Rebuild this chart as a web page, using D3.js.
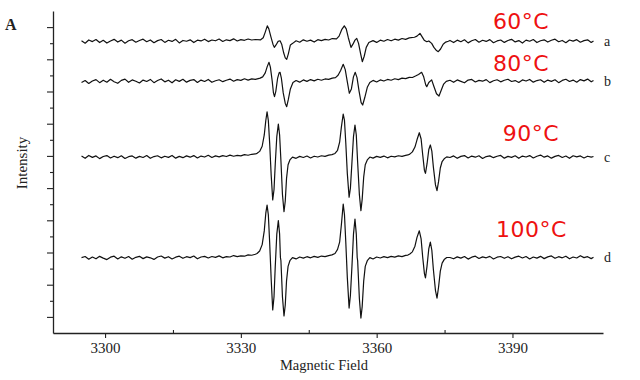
<!DOCTYPE html>
<html lang="en">
<head>
<meta charset="utf-8">
<title>EPR spectra</title>
<script src="https://d3js.org/d3.v7.min.js"></script>
<style>
body { margin: 0; background: #fff; }
svg text { font-family: "Liberation Serif", "Times New Roman", serif; fill: #222; }
</style>
</head>
<body>
<div id="chart"></div>
<script>
// x axis ticks (Gauss)
var fieldTicks = [3300, 3330, 3360, 3390];
var fieldMinor = [3315, 3345, 3375];
// y axis ticks (no labels in the original)
var yMajor = [1, 3, 5, 7, 9, 11, 13, 15, 17, 19];
var yMinor = [2, 4, 6, 8, 10, 12, 14, 16, 18];

var traceNames = ["a", "b", "c", "d"];
var tempLabels = ["60°C", "80°C", "90°C", "100°C"];
// baseline of each stacked spectrum
var offsets = [18.09, 15.61, 10.9, 4.64];

// spectra, [field, signal]
var traceA = [[3294.8,0.06],[3295.6,-0.09],[3296.4,0.11],[3297.2,0.01],[3298.0,0.14],[3298.8,-0.05],[3299.6,0.09],[3300.4,-0.08],[3301.2,0.05],[3302.0,0.15],[3302.8,-0.02],[3303.6,0.10],[3304.4,-0.09],[3305.2,0.06],[3306.0,0.13],[3306.8,-0.03],[3307.6,0.08],[3308.4,0.16],[3309.2,0.00],[3310.0,0.11],[3310.8,-0.06],[3311.6,0.07],[3312.4,0.14],[3313.2,-0.04],[3314.0,0.09],[3314.8,0.02],[3315.6,0.15],[3316.4,-0.07],[3317.2,0.08],[3318.0,0.03],[3318.8,0.12],[3319.6,-0.05],[3320.4,0.10],[3321.2,0.05],[3322.0,0.16],[3322.8,0.01],[3323.6,0.11],[3324.4,0.06],[3325.2,0.17],[3326.0,0.02],[3326.8,0.12],[3327.6,0.07],[3328.4,0.18],[3329.2,0.05],[3330.0,0.13],[3330.8,0.09],[3331.6,0.17],[3332.4,0.11],[3333.2,0.14],
  [3334.37,0.12],[3334.94,0.25],[3335.39,0.6],[3335.84,0.99],[3336.18,0.80],[3336.64,0.30],[3337.09,-0.15],[3337.39,-0.35],[3337.77,-0.20],[3338.23,0.02],[3338.66,0.06],[3339.02,-0.15],[3339.47,-0.70],[3339.81,-1.00],[3340.13,-1.09],[3340.49,-0.75],[3340.94,-0.20],[3341.45,-0.10],
  [3342.2,0.06],[3343.0,-0.03],[3343.8,0.12],[3344.6,0.03],[3345.4,0.10],[3346.2,-0.02],[3347.0,0.13],[3347.8,0.07],[3348.6,0.15],[3349.4,0.11],[3350.2,0.20],
  [3351.13,0.18],[3351.70,0.35],[3352.27,0.75],[3352.85,0.99],[3353.28,0.80],[3353.74,0.25],[3354.33,-0.35],[3354.76,-0.15],[3355.21,0.10],[3355.60,0.21],[3356.00,-0.10],[3356.46,-0.75],[3356.83,-1.24],[3357.25,-0.90],[3357.70,-0.35],[3358.27,-0.05],
  [3359.2,0.07],[3360.0,-0.04],[3360.8,0.10],[3361.6,0.03],[3362.4,0.14],[3363.2,0.06],[3364.0,0.16],[3364.8,0.10],[3365.6,0.20],[3366.4,0.15],[3367.2,0.24],
  [3368.35,0.28],[3368.91,0.35],[3369.57,0.52],[3370.05,0.30],[3370.50,0.10],[3371.07,0.00],[3371.52,0.05],[3372.15,-0.10],[3372.65,-0.35],[3373.22,-0.55],[3373.61,-0.62],[3374.12,-0.45],[3374.69,-0.15],[3375.26,-0.02],[3375.82,0.03],
  [3376.2,0.08],[3377.0,-0.05],[3377.8,0.10],[3378.6,0.00],[3379.4,0.12],[3380.2,-0.07],[3381.0,0.06],[3381.8,0.14],[3382.6,-0.03],[3383.4,0.09],[3384.2,0.02],[3385.0,0.13],[3385.8,-0.06],[3386.6,0.05],[3387.4,0.11],[3388.2,-0.04],[3389.0,0.08],[3389.8,0.15],[3390.6,-0.01],[3391.4,0.07],[3392.2,-0.08],[3393.0,0.10],[3393.8,0.03],[3394.6,0.14],[3395.4,-0.05],[3396.2,0.06],[3397.0,0.12],[3397.8,-0.02],[3398.6,0.09],[3399.4,0.16],[3400.2,0.00],[3401.0,0.08],[3401.8,-0.06],[3402.6,0.11],[3403.4,0.04],[3404.2,0.13],[3405.0,-0.03],[3405.8,0.07],[3406.6,0.12],[3407.4,-0.04],[3407.9,0.05]];

var traceB = [[3294.8,-0.05],[3295.6,0.07],[3296.4,-0.11],[3297.2,0.04],[3298.0,0.13],[3298.8,-0.06],[3299.6,0.09],[3300.4,-0.03],[3301.2,0.15],[3302.0,0.00],[3302.8,-0.10],[3303.6,0.08],[3304.4,0.16],[3305.2,-0.04],[3306.0,0.11],[3306.8,0.03],[3307.6,-0.08],[3308.4,0.10],[3309.2,0.01],[3310.0,0.14],[3310.8,-0.06],[3311.6,0.07],[3312.4,0.17],[3313.2,-0.01],[3314.0,0.09],[3314.8,-0.07],[3315.6,0.12],[3316.4,0.02],[3317.2,0.15],[3318.0,-0.03],[3318.8,0.08],[3319.6,0.13],[3320.4,-0.05],[3321.2,0.10],[3322.0,0.01],[3322.8,0.14],[3323.6,-0.04],[3324.4,0.06],[3325.2,0.12],[3326.0,0.00],[3326.8,0.09],[3327.6,0.16],[3328.4,0.03],[3329.2,0.13],[3330.0,0.08],[3330.8,0.18],[3331.6,0.10],[3332.4,0.17],[3333.2,0.14],
  [3334.26,0.22],[3334.82,0.30],[3335.39,0.55],[3335.84,0.95],[3336.22,1.20],[3336.52,0.90],[3336.92,0.05],[3337.20,-0.70],[3337.43,-0.93],[3337.72,-0.60],[3338.11,0.20],[3338.45,0.55],[3338.66,0.58],[3338.96,0.20],[3339.36,-0.70],[3339.81,-1.35],[3340.13,-1.55],[3340.49,-1.10],[3340.94,-0.45],[3341.51,-0.05],
  [3342.2,0.07],[3343.0,-0.03],[3343.8,0.11],[3344.6,0.02],[3345.4,0.13],[3346.2,0.05],[3347.0,0.15],[3347.8,0.09],[3348.6,0.17],[3349.4,0.14],[3350.2,0.22],
  [3350.91,0.25],[3351.47,0.40],[3352.04,0.70],[3352.61,1.08],[3353.06,0.75],[3353.51,0.00],[3353.96,-0.72],[3354.42,-0.45],[3354.87,0.30],[3355.27,0.58],[3355.66,0.25],[3356.12,-0.60],[3356.57,-1.30],[3356.91,-1.45],[3357.36,-1.00],[3357.93,-0.35],[3358.49,-0.05],
  [3359.2,0.08],[3360.0,-0.02],[3360.8,0.11],[3361.6,0.04],[3362.4,0.14],[3363.2,0.09],[3364.0,0.18],[3364.8,0.13],[3365.6,0.22],[3366.4,0.19],[3367.2,0.27],[3367.9,0.26],
  [3368.57,0.35],[3369.25,0.45],[3369.93,0.58],[3370.39,0.30],[3370.84,-0.20],[3371.07,-0.31],[3371.52,-0.05],[3372.15,0.11],[3372.65,-0.30],[3373.22,-0.75],[3373.77,-0.89],[3374.24,-0.55],[3374.80,-0.15],[3375.37,0.02],
  [3376.2,0.09],[3377.0,-0.04],[3377.8,0.11],[3378.6,0.02],[3379.4,-0.07],[3380.2,0.10],[3381.0,0.14],[3381.8,-0.02],[3382.6,0.08],[3383.4,0.03],[3384.2,0.13],[3385.0,-0.06],[3385.8,0.06],[3386.6,0.12],[3387.4,-0.01],[3388.2,0.09],[3389.0,0.15],[3389.8,0.01],[3390.6,0.07],[3391.4,-0.05],[3392.2,0.11],[3393.0,0.04],[3393.8,0.14],[3394.6,-0.03],[3395.4,0.07],[3396.2,0.12],[3397.0,-0.04],[3397.8,0.10],[3398.6,0.02],[3399.4,0.12],[3400.2,-0.06],[3401.0,0.08],[3401.8,0.15],[3402.6,0.01],[3403.4,0.10],[3404.2,-0.03],[3405.0,0.13],[3405.8,0.05],[3406.6,0.16],[3407.4,-0.01],[3407.9,0.07]];

var traceC = [[3294.8,0.09],[3295.6,-0.05],[3296.4,0.13],[3297.2,0.01],[3298.0,0.10],[3298.8,-0.07],[3299.6,0.06],[3300.4,0.12],[3301.2,-0.03],[3302.0,0.08],[3302.8,-0.01],[3303.6,0.11],[3304.4,-0.06],[3305.2,0.05],[3306.0,0.10],[3306.8,-0.04],[3307.6,0.07],[3308.4,0.00],[3309.2,0.12],[3310.0,-0.05],[3310.8,0.06],[3311.6,0.11],[3312.4,-0.02],[3313.2,0.08],[3314.0,0.01],[3314.8,0.13],[3315.6,-0.04],[3316.4,0.07],[3317.2,-0.01],[3318.0,0.10],[3318.8,0.02],[3319.6,0.12],[3320.4,-0.03],[3321.2,0.09],[3322.0,0.03],[3322.8,0.14],[3323.6,0.00],[3324.4,0.10],[3325.2,0.04],[3326.0,0.12],[3326.8,0.06],[3327.6,0.15],[3328.4,0.08],[3329.2,0.13],[3330.0,0.10],[3330.8,0.18],[3331.6,0.14],[3332.4,0.20],[3333.2,0.22],
  [3333.58,0.26],[3334.15,0.38],[3334.71,0.70],[3335.17,1.40],[3335.51,2.30],[3335.79,2.84],[3336.07,2.30],[3336.36,0.90],[3336.70,-1.10],[3337.04,-2.64],[3337.32,-2.00],[3337.60,-0.40],[3337.94,1.30],[3338.28,2.08],[3338.56,1.40],[3338.85,-0.20],[3339.19,-2.30],[3339.53,-3.37],[3339.81,-2.70],[3340.09,-1.30],[3340.43,-0.45],[3340.83,-0.15],[3341.40,0.02],
  [3342.2,-0.05],[3343.0,0.07],[3343.8,0.00],[3344.6,0.09],[3345.4,-0.03],[3346.2,0.08],[3347.0,0.03],[3347.8,0.11],[3348.6,0.07],[3349.4,0.15],
  [3350.12,0.18],[3350.80,0.25],[3351.36,0.45],[3351.82,0.95],[3352.21,1.90],[3352.61,2.70],[3352.89,2.30],[3353.18,0.90],[3353.52,-1.00],[3353.91,-2.47],[3354.20,-1.90],[3354.54,-0.30],[3354.88,1.30],[3355.21,2.02],[3355.50,1.40],[3355.78,-0.20],[3356.18,-2.30],[3356.52,-3.30],[3356.80,-2.60],[3357.14,-1.20],[3357.48,-0.45],[3357.93,-0.15],[3358.50,0.03],
  [3359.2,-0.04],[3360.0,0.07],[3360.8,0.01],[3361.6,0.09],[3362.4,-0.02],[3363.2,0.08],[3364.0,0.04],[3364.8,0.11],[3365.6,0.07],[3366.4,0.13],[3366.9,0.16],
  [3367.32,0.21],[3367.89,0.35],[3368.46,0.65],[3368.91,1.10],[3369.42,1.54],[3369.82,1.15],[3370.16,0.20],[3370.55,-0.80],[3370.78,-0.98],[3371.12,-0.40],[3371.52,0.50],[3371.86,0.78],[3372.19,0.40],[3372.53,-0.60],[3372.99,-1.70],[3373.33,-2.06],[3373.67,-1.50],[3374.06,-0.65],[3374.46,-0.25],[3374.91,-0.08],[3375.48,0.04],
  [3376.2,0.00],[3377.0,0.10],[3377.8,-0.05],[3378.6,0.07],[3379.4,0.12],[3380.2,-0.03],[3381.0,0.09],[3381.8,0.02],[3382.6,0.11],[3383.4,-0.06],[3384.2,0.06],[3385.0,0.10],[3385.8,-0.01],[3386.6,0.08],[3387.4,0.13],[3388.2,-0.04],[3389.0,0.07],[3389.8,0.01],[3390.6,0.11],[3391.4,-0.05],[3392.2,0.09],[3393.0,0.03],[3393.8,0.12],[3394.6,-0.03],[3395.4,0.08],[3396.2,0.15],[3397.0,0.02],[3397.8,0.10],[3398.6,-0.04],[3399.4,0.07],[3400.2,0.13],[3401.0,0.00],[3401.8,0.09],[3402.6,-0.05],[3403.4,0.11],[3404.2,0.04],[3405.0,0.10],[3405.8,-0.03],[3406.6,0.08],[3407.4,0.02],[3407.9,0.06]];

var traceD = [[3294.8,0.04],[3295.6,0.11],[3296.4,-0.06],[3297.2,0.08],[3298.0,-0.03],[3298.8,0.12],[3299.6,0.01],[3300.4,-0.08],[3301.2,0.07],[3302.0,0.13],[3302.8,-0.04],[3303.6,0.09],[3304.4,0.00],[3305.2,0.11],[3306.0,-0.06],[3306.8,0.06],[3307.6,0.12],[3308.4,-0.02],[3309.2,0.09],[3310.0,0.03],[3310.8,-0.07],[3311.6,0.08],[3312.4,0.14],[3313.2,0.01],[3314.0,0.10],[3314.8,-0.04],[3315.6,0.07],[3316.4,0.13],[3317.2,0.00],[3318.0,0.10],[3318.8,0.04],[3319.6,0.14],[3320.4,-0.03],[3321.2,0.08],[3322.0,0.12],[3322.8,0.02],[3323.6,0.11],[3324.4,0.06],[3325.2,0.15],[3326.0,0.03],[3326.8,0.10],[3327.6,0.08],[3328.4,0.17],[3329.2,0.10],[3330.0,0.15],[3330.8,0.13],[3331.6,0.21],[3332.4,0.19],[3333.2,0.25],
  [3333.58,0.30],[3334.15,0.45],[3334.71,0.85],[3335.17,1.70],[3335.51,2.80],[3335.79,3.31],[3336.07,2.70],[3336.36,1.00],[3336.70,-1.30],[3337.04,-3.21],[3337.32,-2.40],[3337.60,-0.50],[3337.94,1.50],[3338.28,2.34],[3338.56,1.50],[3338.74,0.05],[3338.85,-0.15],[3339.19,-2.40],[3339.53,-3.58],[3339.81,-2.90],[3340.09,-1.40],[3340.43,-0.50],[3340.83,-0.15],[3341.40,0.04],
  [3342.2,-0.04],[3343.0,0.08],[3343.8,0.01],[3344.6,0.10],[3345.4,0.03],[3346.2,0.12],[3347.0,0.06],[3347.8,0.14],[3348.6,0.10],[3349.4,0.17],
  [3350.12,0.21],[3350.80,0.30],[3351.36,0.55],[3351.82,1.00],[3352.21,2.10],[3352.61,3.37],[3352.89,2.70],[3353.18,1.00],[3353.52,-1.20],[3353.91,-3.09],[3354.20,-2.30],[3354.54,-0.50],[3354.88,1.50],[3355.21,2.44],[3355.50,1.50],[3355.70,0.05],[3355.80,-0.15],[3356.18,-2.50],[3356.52,-3.71],[3356.80,-3.00],[3357.14,-1.40],[3357.48,-0.50],[3357.93,-0.15],[3358.50,0.04],
  [3359.2,-0.04],[3360.0,0.08],[3360.8,0.02],[3361.6,0.10],[3362.4,0.04],[3363.2,0.12],[3364.0,0.07],[3364.8,0.15],[3365.6,0.10],[3366.4,0.18],[3366.9,0.20],
  [3367.32,0.27],[3367.89,0.40],[3368.46,0.75],[3368.91,1.30],[3369.42,1.71],[3369.82,1.20],[3370.16,0.10],[3370.55,-0.95],[3370.78,-1.22],[3371.12,-0.50],[3371.52,0.60],[3371.86,1.01],[3372.19,0.50],[3372.53,-0.70],[3372.99,-2.00],[3373.33,-2.47],[3373.67,-1.80],[3374.06,-0.80],[3374.46,-0.30],[3374.91,-0.08],[3375.48,0.05],
  [3376.2,0.05],[3377.0,-0.03],[3377.8,0.09],[3378.6,0.01],[3379.4,0.11],[3380.2,-0.05],[3381.0,0.07],[3381.8,0.13],[3382.6,-0.01],[3383.4,0.09],[3384.2,0.03],[3385.0,0.12],[3385.8,-0.04],[3386.6,0.07],[3387.4,0.11],[3388.2,0.00],[3389.0,0.10],[3389.8,-0.03],[3390.6,0.07],[3391.4,0.13],[3392.2,0.02],[3393.0,0.11],[3393.8,-0.04],[3394.6,0.08],[3395.4,0.01],[3396.2,0.12],[3397.0,-0.02],[3397.8,0.09],[3398.6,0.15],[3399.4,0.00],[3400.2,0.10],[3401.0,0.03],[3401.8,0.13],[3402.6,-0.03],[3403.4,0.08],[3404.2,0.02],[3405.0,0.16],[3405.8,0.04],[3406.6,0.10],[3407.4,-0.02],[3407.9,0.06]];

var traces = [traceA, traceB, traceC, traceD];

// layout
var W = 640, H = 380;
var margin = {top: 11, right: 37, bottom: 47, left: 53};
var width = W - margin.left - margin.right,
    height = H - margin.top - margin.bottom;

var svg = d3.select("#chart")
  .append("svg")
  .attr("width", W)
  .attr("height", H)
  .style("background", "#fff");

var g = svg.append("g")
  .attr("transform", "translate(" + margin.left + "," + margin.top + ")");

var x = d3.scaleLinear().domain([3288.5, 3410]).range([0, width]);
var y = d3.scaleLinear().domain([0, 20]).range([height, 0]);

// x axis
var xAxis = g.append("g")
  .attr("transform", "translate(0," + height + ")")
  .call(d3.axisBottom(x).tickValues(fieldTicks).tickFormat(d3.format("d"))
    .tickSize(5).tickSizeOuter(0).tickPadding(4));
xAxis.attr("font-family", null).attr("font-size", null);
xAxis.selectAll("text").style("font-size", "15px");
g.append("g")
  .attr("transform", "translate(0," + height + ")")
  .call(d3.axisBottom(x).tickValues(fieldMinor).tickSize(-3).tickFormat("").tickSizeOuter(0))
  .select(".domain").remove();

// y axis: ticks only
g.append("g")
  .call(d3.axisLeft(y).tickValues(yMajor).tickSize(6).tickFormat("").tickSizeOuter(0));
g.append("g")
  .call(d3.axisLeft(y).tickValues(yMinor).tickSize(3).tickFormat(""))
  .select(".domain").remove();

g.selectAll(".domain").attr("stroke", "#222").attr("stroke-width", 1.3);
g.selectAll(".tick line").attr("stroke", "#222").attr("stroke-width", 1.1);

// spectra
var line = d3.line()
  .x(function(d) { return x(d[0]); });

traces.forEach(function(tr, i) {
  g.append("path")
    .datum(tr)
    .attr("fill", "none")
    .attr("stroke", "#111")
    .attr("stroke-width", 1.2)
    .attr("stroke-linejoin", "round")
    .attr("d", line.y(function(d) { return y(offsets[i] + d[1]); }));

  g.append("text")
    .attr("x", width + 1)
    .attr("y", y(offsets[i]) + 4)
    .style("font-size", "14px")
    .text(traceNames[i]);
});

// temperature labels (centre x in field units, shift above the baseline in px)
var tempX = [3391.9, 3391.9, 3394.1, 3394.2];
var tempDy = [-13, -11, -17, -21];
tempLabels.forEach(function(t, i) {
  g.append("text")
    .attr("x", x(tempX[i]))
    .attr("y", y(offsets[i]) + tempDy[i])
    .attr("text-anchor", "middle")
    .style("font-family", "'DejaVu Sans', sans-serif")
    .style("font-size", "22px")
    .style("letter-spacing", "0.5px")
    .style("fill", "#ee1111")
    .text(t);
});

// axis titles
g.append("text")
  .attr("transform", "rotate(-90)")
  .attr("x", -(163 - margin.top))
  .attr("y", -26)
  .attr("text-anchor", "middle")
  .style("font-size", "15px")
  .text("Intensity");

g.append("text")
  .attr("x", 324 - margin.left)
  .attr("y", height + 37)
  .attr("text-anchor", "middle")
  .style("font-size", "14.5px")
  .text("Magnetic Field");

svg.append("text")
  .attr("x", 5)
  .attr("y", 30)
  .style("font-size", "16px")
  .style("font-weight", "bold")
  .text("A");
</script>
</body>
</html>
